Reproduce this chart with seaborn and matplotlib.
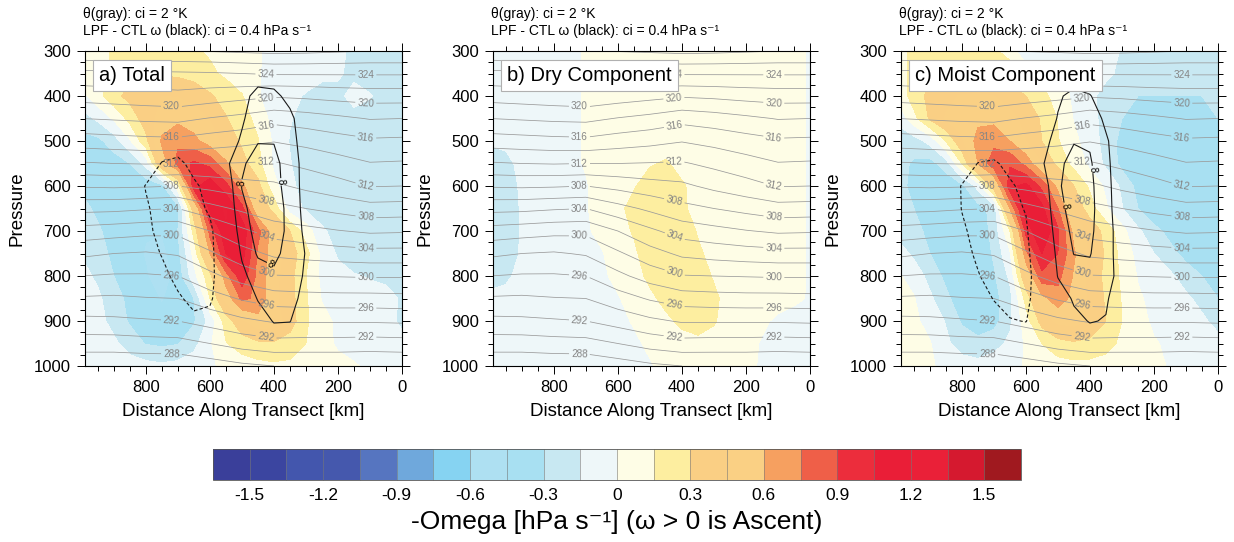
import numpy as np
import matplotlib
matplotlib.use("Agg")
import matplotlib.pyplot as plt
from matplotlib.colors import ListedColormap
from matplotlib.ticker import MultipleLocator, FixedLocator
import seaborn as sns

# ---------------------------------------------------------------- data
distance_km = [1000, 950, 900, 850, 800, 750, 700, 650, 600, 550, 500,
               450, 400, 350, 300, 250, 200, 150, 100, 50, 0]
pressure_hpa = [300, 350, 400, 450, 500, 550, 600, 650, 700, 750, 800,
                850, 900, 950, 1000]
theta_distance_km = [1000, 900, 800, 700, 600, 500, 400, 300, 200, 100, 0]

# -omega [hPa/s], rows = pressure levels, columns = distance_km
neg_omega_total = [
    [0.08, 0.12, 0.16, 0.20, 0.22, 0.22, 0.20, 0.17, 0.13, 0.09, 0.05, 0.01, -0.03, -0.06, -0.09, -0.11, -0.13, -0.17, -0.20, -0.22, -0.22],
    [0.04, 0.10, 0.18, 0.26, 0.28, 0.28, 0.27, 0.24, 0.18, 0.12, 0.06, 0.01, -0.05, -0.09, -0.10, -0.12, -0.14, -0.17, -0.22, -0.24, -0.24],
    [-0.05, 0.10, 0.25, 0.35, 0.42, 0.45, 0.44, 0.40, 0.32, 0.24, 0.16, 0.01, -0.06, -0.12, -0.16, -0.20, -0.17, -0.12, -0.14, -0.20, -0.22],
    [-0.22, -0.12, 0.02, 0.20, 0.38, 0.50, 0.56, 0.52, 0.44, 0.31, 0.22, 0.10, -0.06, -0.14, -0.20, -0.22, -0.20, -0.18, -0.22, -0.25, -0.25],
    [-0.35, -0.34, -0.22, -0.02, 0.25, 0.63, 0.72, 0.64, 0.52, 0.40, 0.27, 0.16, -0.03, -0.16, -0.24, -0.28, -0.28, -0.28, -0.28, -0.28, -0.27],
    [-0.36, -0.40, -0.38, -0.30, -0.10, 0.50, 0.80, 0.93, 0.85, 0.63, 0.36, 0.20, -0.03, -0.14, -0.25, -0.29, -0.29, -0.29, -0.29, -0.28, -0.27],
    [-0.32, -0.38, -0.40, -0.40, -0.40, -0.35, 0.10, 1.00, 1.15, 0.95, 0.65, 0.35, 0.05, -0.12, -0.20, -0.28, -0.29, -0.29, -0.29, -0.28, -0.26],
    [-0.26, -0.33, -0.38, -0.40, -0.42, -0.42, -0.35, 0.40, 1.10, 1.22, 0.95, 0.45, 0.24, -0.08, -0.17, -0.25, -0.28, -0.29, -0.29, -0.28, -0.25],
    [-0.20, -0.28, -0.36, -0.40, -0.44, -0.44, -0.30, 0.20, 0.80, 1.18, 1.15, 0.80, 0.50, 0.30, 0.08, -0.12, -0.22, -0.25, -0.28, -0.28, -0.25],
    [-0.16, -0.25, -0.33, -0.40, -0.46, -0.50, -0.35, 0.05, 0.60, 1.05, 1.12, 0.72, 0.52, 0.38, 0.20, -0.04, -0.17, -0.22, -0.24, -0.22, -0.20],
    [-0.10, -0.18, -0.30, -0.38, -0.44, -0.52, -0.40, -0.05, 0.25, 0.68, 1.00, 0.70, 0.50, 0.35, 0.15, -0.04, -0.10, -0.14, -0.16, -0.17, -0.17],
    [-0.07, -0.12, -0.24, -0.34, -0.40, -0.46, -0.40, -0.30, 0.15, 0.50, 0.78, 0.72, 0.48, 0.36, 0.17, -0.01, -0.06, -0.08, -0.10, -0.12, -0.16],
    [-0.05, -0.10, -0.20, -0.32, -0.40, -0.42, -0.40, -0.32, -0.10, 0.22, 0.42, 0.54, 0.52, 0.38, 0.17, 0.05, -0.03, -0.06, -0.08, -0.10, -0.18],
    [-0.04, -0.07, -0.12, -0.22, -0.31, -0.33, -0.31, -0.20, -0.02, 0.14, 0.22, 0.27, 0.28, 0.22, 0.15, 0.05, -0.02, -0.04, -0.05, -0.06, -0.10],
    [-0.03, -0.04, -0.06, -0.08, -0.10, -0.12, -0.10, -0.06, -0.02, 0.03, 0.07, 0.10, 0.12, 0.12, 0.10, 0.07, 0.04, 0.01, -0.02, -0.04, -0.05],
]

neg_omega_dry = [
    [-0.06, -0.06, -0.06, -0.05, -0.04, -0.03, 0.01, 0.03, 0.05, 0.06, 0.07, 0.07, 0.07, 0.07, 0.06, 0.06, 0.05, 0.05, 0.04, 0.03, -0.01],
    [-0.06, -0.06, -0.06, -0.05, -0.04, -0.03, 0.01, 0.03, 0.05, 0.06, 0.07, 0.07, 0.07, 0.07, 0.06, 0.06, 0.05, 0.05, 0.04, 0.03, -0.01],
    [-0.07, -0.06, -0.06, -0.05, -0.04, -0.03, 0.01, 0.03, 0.05, 0.06, 0.07, 0.07, 0.07, 0.07, 0.06, 0.06, 0.05, 0.05, 0.04, 0.03, -0.01],
    [-0.10, -0.08, -0.06, -0.05, -0.04, -0.03, 0.01, 0.03, 0.05, 0.06, 0.07, 0.08, 0.07, 0.07, 0.06, 0.06, 0.05, 0.05, 0.04, 0.03, -0.01],
    [-0.13, -0.11, -0.08, -0.06, -0.04, -0.03, 0.01, 0.03, 0.06, 0.08, 0.10, 0.11, 0.09, 0.08, 0.07, 0.06, 0.05, 0.05, 0.04, 0.03, -0.01],
    [-0.22, -0.20, -0.10, -0.06, -0.05, -0.03, 0.01, 0.04, 0.08, 0.11, 0.14, 0.16, 0.12, 0.10, 0.08, 0.07, 0.06, 0.05, 0.04, 0.03, -0.01],
    [-0.25, -0.24, -0.12, -0.07, -0.05, -0.03, -0.01, 0.05, 0.10, 0.14, 0.20, 0.21, 0.16, 0.12, 0.10, 0.08, 0.07, 0.06, 0.05, 0.03, -0.01],
    [-0.26, -0.25, -0.13, -0.08, -0.06, -0.04, -0.01, 0.05, 0.12, 0.19, 0.22, 0.23, 0.17, 0.11, 0.10, 0.08, 0.07, 0.06, 0.05, 0.03, -0.01],
    [-0.26, -0.25, -0.13, -0.08, -0.06, -0.04, -0.02, 0.04, 0.11, 0.16, 0.23, 0.25, 0.22, 0.14, 0.10, 0.08, 0.07, 0.06, 0.05, 0.03, -0.01],
    [-0.25, -0.24, -0.13, -0.08, -0.06, -0.04, -0.03, -0.01, 0.07, 0.13, 0.21, 0.25, 0.24, 0.17, 0.11, 0.09, 0.07, 0.06, 0.05, 0.03, -0.01],
    [-0.20, -0.18, -0.10, -0.07, -0.06, -0.05, -0.04, -0.02, 0.03, 0.10, 0.18, 0.24, 0.25, 0.20, 0.14, 0.10, 0.08, 0.06, 0.05, 0.03, -0.01],
    [-0.12, -0.10, -0.08, -0.07, -0.06, -0.05, -0.04, -0.03, -0.01, 0.05, 0.12, 0.19, 0.24, 0.23, 0.17, 0.11, 0.08, 0.05, 0.04, 0.02, -0.01],
    [-0.08, -0.07, -0.06, -0.06, -0.05, -0.05, -0.04, -0.04, -0.03, 0.01, 0.07, 0.12, 0.18, 0.20, 0.16, 0.10, 0.06, 0.02, -0.02, -0.04, -0.05],
    [-0.07, -0.07, -0.06, -0.06, -0.05, -0.05, -0.04, -0.04, -0.03, -0.02, 0.02, 0.06, 0.10, 0.12, 0.11, 0.08, 0.04, -0.01, -0.03, -0.05, -0.05],
    [-0.06, -0.06, -0.06, -0.05, -0.05, -0.05, -0.04, -0.04, -0.03, -0.02, -0.01, 0.03, 0.05, 0.06, 0.06, 0.05, 0.02, -0.01, -0.03, -0.04, -0.05],
]

neg_omega_moist = [
    [0.10, 0.18, 0.22, 0.25, 0.25, 0.22, 0.17, 0.10, -0.17, -0.10, -0.05, -0.04, -0.06, -0.10, -0.16, -0.20, -0.22, -0.24, -0.24, -0.23, -0.22],
    [0.08, 0.20, 0.27, 0.28, 0.29, 0.28, 0.26, 0.22, 0.15, 0.08, 0.02, -0.03, -0.08, -0.12, -0.18, -0.24, -0.28, -0.28, -0.28, -0.27, -0.25],
    [0.04, 0.22, 0.34, 0.42, 0.46, 0.47, 0.45, 0.38, 0.30, 0.20, 0.08, -0.03, -0.12, -0.20, -0.28, -0.30, -0.30, -0.30, -0.30, -0.30, -0.28],
    [-0.12, 0.10, 0.32, 0.46, 0.52, 0.56, 0.56, 0.50, 0.40, 0.28, 0.14, -0.01, -0.10, -0.20, -0.30, -0.36, -0.38, -0.36, -0.34, -0.32, -0.30],
    [-0.22, -0.22, -0.10, 0.15, 0.42, 0.66, 0.70, 0.60, 0.45, 0.30, 0.16, 0.04, -0.08, -0.20, -0.35, -0.42, -0.44, -0.42, -0.38, -0.34, -0.30],
    [-0.25, -0.32, -0.36, -0.22, 0.15, 0.60, 0.85, 0.88, 0.70, 0.45, 0.25, 0.10, -0.04, -0.18, -0.35, -0.44, -0.44, -0.44, -0.40, -0.36, -0.32],
    [-0.25, -0.34, -0.42, -0.42, -0.34, -0.10, 0.40, 1.00, 1.10, 0.85, 0.55, 0.30, 0.12, -0.03, -0.18, -0.35, -0.44, -0.44, -0.42, -0.38, -0.33],
    [-0.24, -0.30, -0.40, -0.44, -0.42, -0.36, -0.25, 0.60, 1.15, 1.10, 0.75, 0.42, 0.22, 0.02, -0.14, -0.30, -0.42, -0.44, -0.42, -0.38, -0.33],
    [-0.20, -0.25, -0.34, -0.42, -0.44, -0.40, -0.25, 0.15, 0.95, 1.20, 0.92, 0.55, 0.40, 0.25, 0.05, -0.12, -0.25, -0.35, -0.40, -0.38, -0.32],
    [-0.08, -0.18, -0.30, -0.40, -0.44, -0.42, -0.28, -0.02, 0.70, 1.05, 0.90, 0.62, 0.42, 0.28, 0.10, -0.05, -0.15, -0.25, -0.35, -0.38, -0.35],
    [0.02, -0.06, -0.20, -0.34, -0.42, -0.44, -0.32, -0.12, 0.45, 0.85, 0.80, 0.58, 0.40, 0.26, 0.12, -0.01, -0.06, -0.12, -0.22, -0.30, -0.35],
    [0.04, 0.01, -0.12, -0.26, -0.40, -0.44, -0.36, -0.20, 0.20, 0.55, 0.68, 0.55, 0.42, 0.28, 0.14, 0.02, -0.04, -0.08, -0.12, -0.20, -0.30],
    [0.06, 0.03, -0.05, -0.16, -0.32, -0.40, -0.36, -0.18, 0.08, 0.36, 0.48, 0.50, 0.42, 0.30, 0.15, 0.04, -0.02, -0.05, -0.08, -0.12, -0.20],
    [0.08, 0.06, 0.01, -0.12, -0.22, -0.25, -0.20, -0.12, 0.02, 0.15, 0.25, 0.28, 0.26, 0.20, 0.12, 0.05, 0.01, -0.02, -0.04, -0.06, -0.10],
    [0.06, 0.05, 0.02, -0.04, -0.08, -0.10, -0.08, -0.04, 0.01, 0.05, 0.08, 0.10, 0.10, 0.09, 0.07, 0.05, 0.03, -0.01, -0.02, -0.03, -0.05],
]

# potential temperature [K], rows = pressure levels, columns = theta_distance_km
theta_k = [
    [327.8, 328.0, 328.0, 328.0, 328.1, 328.3, 328.5, 328.4, 328.2, 328.0, 328.0],
    [323.4, 323.5, 323.6, 323.7, 323.8, 324.0, 324.2, 324.2, 324.2, 324.2, 324.2],
    [320.8, 321.0, 321.2, 321.4, 321.0, 320.6, 320.2, 320.4, 320.7, 320.9, 320.9],
    [318.0, 318.2, 318.4, 318.5, 317.9, 317.4, 316.7, 317.1, 317.6, 318.1, 318.0],
    [315.0, 315.2, 315.4, 315.5, 315.0, 314.6, 314.1, 314.6, 315.2, 315.7, 315.6],
    [311.8, 312.0, 312.1, 312.0, 312.0, 311.9, 311.8, 312.5, 313.2, 313.9, 313.8],
    [308.2, 308.3, 308.2, 308.0, 308.6, 309.2, 309.6, 310.5, 311.3, 312.1, 312.0],
    [304.6, 304.5, 304.2, 304.0, 305.3, 306.4, 307.4, 308.0, 308.6, 309.2, 309.1],
    [301.2, 300.9, 300.6, 300.5, 302.0, 303.6, 304.9, 305.4, 305.9, 306.3, 306.2],
    [298.4, 298.0, 297.8, 298.2, 299.7, 301.2, 302.4, 302.8, 303.1, 303.3, 303.3],
    [296.0, 295.8, 295.8, 296.0, 297.5, 298.9, 299.9, 300.0, 300.1, 300.2, 300.2],
    [293.8, 293.7, 293.9, 294.0, 295.1, 296.2, 297.0, 297.2, 297.3, 297.3, 297.4],
    [291.5, 291.6, 291.8, 292.0, 292.8, 293.6, 294.2, 294.2, 294.2, 294.2, 294.3],
    [289.0, 289.0, 289.2, 289.3, 290.0, 290.8, 291.3, 291.2, 291.2, 291.1, 291.2],
    [286.4, 286.4, 286.5, 286.5, 287.0, 287.6, 288.0, 288.1, 288.1, 288.0, 288.1],
]

# LPF - CTL omega difference [hPa/s], same grid as the shading
omega_diff_total = [
    [0, 0, 0, 0, 0, 0, 0, 0, 0, 0, 0.02, 0.05, 0.04, 0.02, 0, 0, 0, 0, 0, 0, 0],
    [0, 0, 0, 0, 0, 0, 0, 0, 0, 0.02, 0.12, 0.25, 0.22, 0.10, 0.03, 0, 0, 0, 0, 0, 0],
    [0, 0, 0, 0, 0, 0, 0, 0, 0.02, 0.10, 0.30, 0.50, 0.48, 0.30, 0.10, 0.02, 0, 0, 0, 0, 0],
    [0, 0, 0, 0, 0, 0, 0, 0, 0.03, 0.15, 0.35, 0.62, 0.68, 0.48, 0.18, 0.04, 0, 0, 0, 0, 0],
    [0, 0, 0, 0, 0, -0.15, -0.20, -0.10, 0.00, 0.20, 0.45, 0.78, 0.78, 0.55, 0.20, 0.05, 0, 0, 0, 0, 0],
    [0, 0, 0, 0, -0.15, -0.42, -0.48, -0.30, -0.05, 0.30, 0.75, 0.95, 0.92, 0.60, 0.25, 0.05, 0, 0, 0, 0, 0],
    [0, 0, 0, -0.15, -0.42, -0.52, -0.58, -0.45, -0.30, 0.10, 0.82, 1.00, 0.95, 0.62, 0.25, 0.05, 0, 0, 0, 0, 0],
    [0, 0, 0, -0.12, -0.35, -0.55, -0.60, -0.52, -0.35, 0.05, 0.70, 1.00, 1.00, 0.68, 0.25, 0.05, 0, 0, 0, 0, 0],
    [0, 0, 0, -0.10, -0.32, -0.50, -0.60, -0.58, -0.48, -0.05, 0.60, 0.95, 0.98, 0.70, 0.30, 0.08, 0, 0, 0, 0, 0],
    [0, 0, 0, -0.05, -0.25, -0.42, -0.58, -0.60, -0.50, -0.10, 0.45, 0.85, 0.90, 0.65, 0.38, 0.10, 0, 0, 0, 0, 0],
    [0, 0, 0, 0, -0.15, -0.30, -0.50, -0.58, -0.50, -0.15, 0.30, 0.60, 0.72, 0.58, 0.35, 0.10, 0, 0, 0, 0, 0],
    [0, 0, 0, 0, -0.05, -0.15, -0.35, -0.50, -0.45, -0.15, 0.15, 0.42, 0.55, 0.50, 0.30, 0.08, 0, 0, 0, 0, 0],
    [0, 0, 0, 0, 0, -0.05, -0.15, -0.32, -0.30, -0.10, 0.05, 0.25, 0.42, 0.41, 0.20, 0.05, 0, 0, 0, 0, 0],
    [0, 0, 0, 0, 0, 0, -0.05, -0.10, -0.10, -0.03, 0.02, 0.10, 0.20, 0.20, 0.10, 0.02, 0, 0, 0, 0, 0],
    [0, 0, 0, 0, 0, 0, 0, 0, 0, 0, 0, 0, 0, 0, 0, 0, 0, 0, 0, 0, 0],
]

omega_diff_moist = [
    [0, 0, 0, 0, 0, 0, 0, 0, 0, 0, 0, 0, 0, 0, 0, 0, 0, 0, 0, 0, 0],
    [0, 0, 0, 0, 0, 0, 0, 0, 0, 0.02, 0.10, 0.20, 0.15, 0.05, 0, 0, 0, 0, 0, 0, 0],
    [0, 0, 0, 0, 0, 0, 0, 0, 0.02, 0.10, 0.35, 0.50, 0.42, 0.20, 0.05, 0, 0, 0, 0, 0, 0],
    [0, 0, 0, 0, 0, 0, 0, 0, 0.03, 0.15, 0.42, 0.65, 0.62, 0.32, 0.12, 0.02, 0, 0, 0, 0, 0],
    [0, 0, 0, 0, 0, -0.12, -0.15, -0.08, 0.00, 0.25, 0.55, 0.78, 0.75, 0.45, 0.15, 0.03, 0, 0, 0, 0, 0],
    [0, 0, 0, 0, -0.15, -0.41, -0.45, -0.30, -0.05, 0.35, 0.72, 0.92, 0.85, 0.48, 0.18, 0.02, 0, 0, 0, 0, 0],
    [0, 0, 0, -0.15, -0.42, -0.52, -0.55, -0.45, -0.30, 0.15, 0.75, 0.98, 0.90, 0.50, 0.20, 0.03, 0, 0, 0, 0, 0],
    [0, 0, 0, -0.15, -0.41, -0.52, -0.58, -0.50, -0.38, 0.08, 0.68, 0.95, 0.92, 0.52, 0.20, 0.03, 0, 0, 0, 0, 0],
    [0, 0, 0, -0.12, -0.35, -0.50, -0.58, -0.58, -0.45, -0.02, 0.60, 0.88, 0.88, 0.55, 0.22, 0.03, 0, 0, 0, 0, 0],
    [0, 0, 0, -0.10, -0.30, -0.45, -0.55, -0.58, -0.50, -0.08, 0.50, 0.81, 0.82, 0.55, 0.22, 0.03, 0, 0, 0, 0, 0],
    [0, 0, 0, -0.05, -0.22, -0.38, -0.52, -0.55, -0.48, -0.25, 0.42, 0.62, 0.70, 0.55, 0.25, 0.05, 0, 0, 0, 0, 0],
    [0, 0, 0, 0, -0.10, -0.20, -0.42, -0.52, -0.48, -0.20, 0.18, 0.45, 0.55, 0.45, 0.15, 0.03, 0, 0, 0, 0, 0],
    [0, 0, 0, 0, 0, -0.08, -0.22, -0.38, -0.41, -0.20, 0.05, 0.30, 0.42, 0.38, 0.12, 0.02, 0, 0, 0, 0, 0],
    [0, 0, 0, 0, 0, 0, -0.08, -0.15, -0.18, -0.08, 0, 0.10, 0.20, 0.18, 0.08, 0, 0, 0, 0, 0, 0],
    [0, 0, 0, 0, 0, 0, 0, 0, 0, 0, 0, 0, 0, 0, 0, 0, 0, 0, 0, 0, 0],
]

panel_titles = ["a) Total", "b) Dry Component", "c) Moist Component"]
colorbar_ticks = [-1.5, -1.2, -0.9, -0.6, -0.3, 0, 0.3, 0.6, 0.9, 1.2, 1.5]
colorbar_ticklabels = ["-1.5", "-1.2", "-0.9", "-0.6", "-0.3", "0",
                       "0.3", "0.6", "0.9", "1.2", "1.5"]
shading_colors = [
    "#3a3f9a", "#3b45a0", "#4356ad", "#4558ad", "#5675c0", "#6fa8dc",
    "#86d3f2", "#aee0f2", "#a8e0f2", "#c8e8f2", "#eef7f9", "#fefde6",
    "#fdeea0", "#facf84", "#fad084", "#f6a060", "#ef5f48", "#ec2d3c",
    "#ea1e37", "#ea2038", "#d5192f", "#a0191f",
]
shading_levels = np.round(np.linspace(-1.5, 1.5, 21), 2)
theta_label_levels = [288, 292, 296, 300, 304, 308, 312, 316, 320, 324]
theta_plain_levels = [286, 290, 294, 298, 302, 306, 310, 314, 318, 322, 326, 328]
omega_diff_outer = [-0.4, 0.4]
omega_diff_inner = [0.8]

# label anchor points (km, hPa) for the isentrope and omega labels
theta_label_spots = (
    [(720, p) for p in (424, 491, 549, 600, 649, 707, 802, 900, 973)]
    + [(425, p) for p in (353, 405, 460, 546, 637, 717, 798, 868, 938)]
    + [(113, p) for p in (353, 414, 491, 598, 670, 738, 804, 871, 935)]
)
theta_spots_hidden = {2: [(425, 353)]}   # covered by the wide title box
omega_label_spots = {
    0: [(496, 593), (386, 591), (421, 787)],
    2: [(405, 564), (487, 646)],
}

# ---------------------------------------------------------------- style
sns.set_theme(style="white")
plt.rcParams["font.family"] = ["Liberation Sans", "DejaVu Sans"]
plt.rcParams["axes.unicode_minus"] = False
plt.rcParams["text.color"] = "black"
plt.rcParams["axes.labelcolor"] = "black"
plt.rcParams["xtick.color"] = "black"
plt.rcParams["ytick.color"] = "black"

palette = sns.color_palette(shading_colors)
cmap = ListedColormap(palette[1:-1]).with_extremes(under=palette[0], over=palette[-1])

W, H = 1234, 542
fig = plt.figure(figsize=(W / 100, H / 100), dpi=100)

panel_left_px = [85, 493, 901]
ax_top_px, ax_h_px, ax_w_px = 51, 315, 317

X, P = np.meshgrid(distance_km, pressure_hpa)
TX, TP = np.meshgrid(theta_distance_km, pressure_hpa)
theta_grid = np.array(theta_k)
shading_fields = [neg_omega_total, neg_omega_dry, neg_omega_moist]
diff_fields = {0: omega_diff_total, 2: omega_diff_moist}
theta_color = "#9a9a9a"

cf = None
for i, left in enumerate(panel_left_px):
    ax = fig.add_axes([left / W, 1 - (ax_top_px + ax_h_px) / H, ax_w_px / W, ax_h_px / H])
    cf = ax.contourf(X, P, np.array(shading_fields[i]), levels=shading_levels,
                     cmap=cmap, extend="both", zorder=0)

    # isentropes: every 2 K, labels on every other line
    ax.contour(TX, TP, theta_grid, levels=theta_plain_levels,
               colors=theta_color, linewidths=0.55, zorder=2)
    cs_t = ax.contour(TX, TP, theta_grid, levels=theta_label_levels,
                      colors=theta_color, linewidths=0.55, zorder=2)
    spots = [s for s in theta_label_spots if s not in theta_spots_hidden.get(i, [])]
    ax.clabel(cs_t, fmt="%d", fontsize=7.2, colors="#858585", inline=True,
              inline_spacing=2, manual=spots)

    if i in diff_fields:
        field = np.array(diff_fields[i])
        cs_o = ax.contour(X, P, field, levels=omega_diff_outer,
                          colors="#1a1a1a", linewidths=0.8, zorder=3)
        cs_o.set_linestyle([(0, (3.0, 2.0)), "solid"])
        cs_i = ax.contour(X, P, field, levels=omega_diff_inner,
                          colors="#1a1a1a", linewidths=0.8, zorder=3)
        ax.clabel(cs_i, fmt={0.8: "8"}, fontsize=7, colors="black",
                  inline=True, inline_spacing=1, manual=omega_label_spots[i])

    ax.set_xlim(990, 0)
    ax.set_ylim(1000, 300)
    ax.xaxis.set_major_locator(FixedLocator([800, 600, 400, 200, 0]))
    ax.xaxis.set_minor_locator(MultipleLocator(50))
    ax.yaxis.set_major_locator(MultipleLocator(100))
    ax.yaxis.set_minor_locator(MultipleLocator(25))
    ax.tick_params(which="both", direction="out", top=True, right=True,
                   bottom=True, left=True, labelsize=12, width=0.7, pad=4)
    ax.tick_params(which="major", length=6)
    ax.tick_params(which="minor", length=3.5)
    for sp in ax.spines.values():
        sp.set_color("black")
        sp.set_linewidth(0.8)
    ax.set_xlabel("Distance Along Transect [km]", fontsize=13.5, labelpad=6)
    ax.set_ylabel("Pressure", fontsize=13.5, labelpad=6)

    ax.text(-0.006, 1.116, "θ(gray): ci = 2 °K",
            transform=ax.transAxes, fontsize=10, ha="left", va="center")
    ax.text(-0.006, 1.064, "LPF - CTL ω (black): ci = 0.4 hPa s⁻¹",
            transform=ax.transAxes, fontsize=10, ha="left", va="center")

    ax.text(0.045, 0.952, panel_titles[i], transform=ax.transAxes,
            fontsize=14.5, ha="left", va="top", zorder=10,
            bbox=dict(boxstyle="square,pad=0.3", fc="white", ec="#b0b0b0", lw=0.8))

cax = fig.add_axes([213 / W, 1 - 480 / H, 808 / W, 31 / H])
cb = fig.colorbar(cf, cax=cax, orientation="horizontal", extendrect=True,
                  extendfrac=0.05, drawedges=True, ticks=colorbar_ticks)
cb.outline.set_linewidth(0.6)
cb.outline.set_edgecolor("#555555")
cb.dividers.set_color("#777777")
cb.dividers.set_linewidth(0.4)
cb.ax.tick_params(length=0, labelsize=12.5, pad=6)
cb.ax.set_xticklabels(colorbar_ticklabels)
cb.set_label("-Omega [hPa s⁻¹] (ω > 0 is Ascent)", fontsize=19, labelpad=5)

fig.savefig("out.png", dpi=100)
